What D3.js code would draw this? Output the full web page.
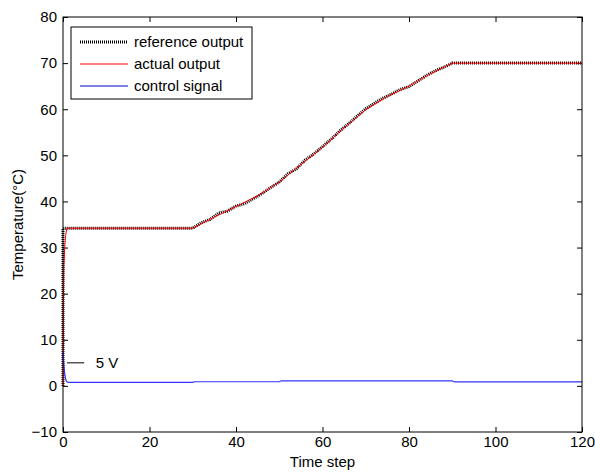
<!DOCTYPE html>
<html>
<head>
<meta charset="utf-8">
<script src="https://cdn.jsdelivr.net/npm/d3@7"></script>
<style>
  body { margin: 0; background: #fff; }
  text { font-family: "Liberation Sans", Arial, sans-serif; }
</style>
</head>
<body>
<svg id="chart" width="595" height="472"></svg>
<script>

//
// DATA
//

// reference output (black dotted)
const refT = [0, 0, 30, 32, 34, 36, 38, 40, 42, 44, 46, 48, 50, 52, 54, 56, 58,
              60, 62, 64, 66, 68, 70, 72, 74, 76, 78, 80, 82, 84, 86, 88, 90, 120];
const refV = [0, 34.2, 34.2, 35.4, 36.1, 37.5, 37.9, 39.0, 39.5, 40.6, 41.7, 43.0, 44.2, 46.0, 47.1, 49.0, 50.3,
              51.9, 53.5, 55.3, 56.8, 58.5, 60.1, 61.3, 62.4, 63.3, 64.3, 64.9, 66.1, 67.3, 68.3, 69.1, 70, 70];

// actual output (red)
const actT = [0, 0.1, 0.2, 0.4, 0.6, 0.9, 30, 35, 40, 45, 50, 55, 60, 65, 70, 75, 80, 85, 90, 120];
const actV = [0, 18, 26, 30, 32.6, 34.2, 34.2, 36.6, 38.9, 41.2, 44.2, 48.0, 51.7, 56.0, 59.9, 62.8, 65.0, 67.7, 70, 70];

// control signal (blue)
const ctlT = [0, 0.2, 0.4, 0.6, 0.8, 1.0, 1.3, 30, 30.5, 50, 50.5, 90, 90.5, 120];
const ctlV = [7.5, 4.5, 2.6, 1.5, 1.0, 0.8, 0.75, 0.75, 0.9, 0.9, 1.1, 1.1, 0.85, 0.85];

const xTicks = [0, 20, 40, 60, 80, 100, 120];
const yTicks = [-10, 0, 10, 20, 30, 40, 50, 60, 70, 80];

const legendLabels = ['reference output', 'actual output', 'control signal'];

//
// CHART
//

const width = 595;
const height = 472;
const margin = {top: 17, right: 13, bottom: 40, left: 63};
const fs = 15;

const svg = d3.select('#chart');

const x = d3.scaleLinear()
    .domain([0, 120])
    .range([margin.left, width - margin.right]);
const y = d3.scaleLinear()
    .domain([-10, 80])
    .range([height - margin.bottom, margin.top]);

// axes (ticks inside, matlab style)
svg.append('g')
    .attr('transform', `translate(0,${height - margin.bottom})`)
    .call(d3.axisBottom(x).tickValues(xTicks).tickSize(-5).tickPadding(4))
    .call(g => g.select('.domain').remove())
    .call(g => g.selectAll('text').attr('font-size', fs).attr('fill', '#000'));

svg.append('g')
    .attr('transform', `translate(0,${margin.top})`)
    .call(d3.axisTop(x).tickValues(xTicks).tickSize(-5).tickFormat(''))
    .call(g => g.select('.domain').remove());

svg.append('g')
    .attr('transform', `translate(${margin.left},0)`)
    .call(d3.axisLeft(y).tickValues(yTicks).tickSize(-5).tickPadding(6))
    .call(g => g.select('.domain').remove())
    .call(g => g.selectAll('text').attr('font-size', fs).attr('fill', '#000'));

svg.append('g')
    .attr('transform', `translate(${width - margin.right},0)`)
    .call(d3.axisRight(y).tickValues(yTicks).tickSize(-5).tickFormat(''))
    .call(g => g.select('.domain').remove());

svg.selectAll('.tick line').attr('stroke', '#000');

// axis labels
svg.append('text')
    .attr('x', (margin.left + width - margin.right) / 2)
    .attr('y', height - 5)
    .attr('text-anchor', 'middle')
    .attr('font-size', fs)
    .text('Time step');

svg.append('text')
    .attr('transform', `translate(23,${(margin.top + height - margin.bottom) / 2}) rotate(-90)`)
    .attr('text-anchor', 'middle')
    .attr('font-size', fs)
    .text('Temperature(°C)');

// lines
const line = (ts) => d3.line()
    .x((d, i) => x(ts[i]))
    .y(d => y(d));

svg.append('path')
    .datum(refV)
    .attr('fill', 'none')
    .attr('stroke', '#000')
    .attr('stroke-width', 3)
    .attr('stroke-dasharray', '1 1')
    .attr('d', line(refT));

svg.append('path')
    .datum(actV)
    .attr('fill', 'none')
    .attr('stroke', '#ff0000')
    .attr('stroke-width', 1)
    .attr('d', line(actT));

svg.append('path')
    .datum(ctlV)
    .attr('fill', 'none')
    .attr('stroke', '#3333ff')
    .attr('stroke-width', 1.2)
    .attr('d', line(ctlT));

// "5 V" annotation
svg.append('line')
    .attr('x1', x(0.9)).attr('x2', x(4.9))
    .attr('y1', y(5)).attr('y2', y(5))
    .attr('stroke', '#000');
svg.append('text')
    .attr('x', x(7.6))
    .attr('y', y(5))
    .attr('dy', '0.35em')
    .attr('font-size', fs)
    .text('5 V');

// frame
svg.append('rect')
    .attr('x', margin.left)
    .attr('y', margin.top)
    .attr('width', width - margin.left - margin.right)
    .attr('height', height - margin.top - margin.bottom)
    .attr('fill', 'none')
    .attr('stroke', '#000')
    .attr('stroke-width', 1);

// legend
const lg = svg.append('g').attr('transform', 'translate(71,27)');
lg.append('rect')
    .attr('width', 181)
    .attr('height', 72)
    .attr('fill', '#fff')
    .attr('stroke', '#000');

const swatch = [
    {stroke: '#000', w: 3, dash: '1 1'},
    {stroke: '#ff0000', w: 1, dash: null},
    {stroke: '#0000cc', w: 1, dash: null}
];

legendLabels.forEach((label, i) => {
    const yy = 15 + i * 22;
    lg.append('line')
        .attr('x1', 9).attr('x2', 57)
        .attr('y1', yy).attr('y2', yy)
        .attr('stroke', swatch[i].stroke)
        .attr('stroke-width', swatch[i].w)
        .attr('stroke-dasharray', swatch[i].dash);
    lg.append('text')
        .attr('x', 63)
        .attr('y', yy)
        .attr('dy', '0.35em')
        .attr('font-size', fs)
        .text(label);
});

</script>
</body>
</html>
